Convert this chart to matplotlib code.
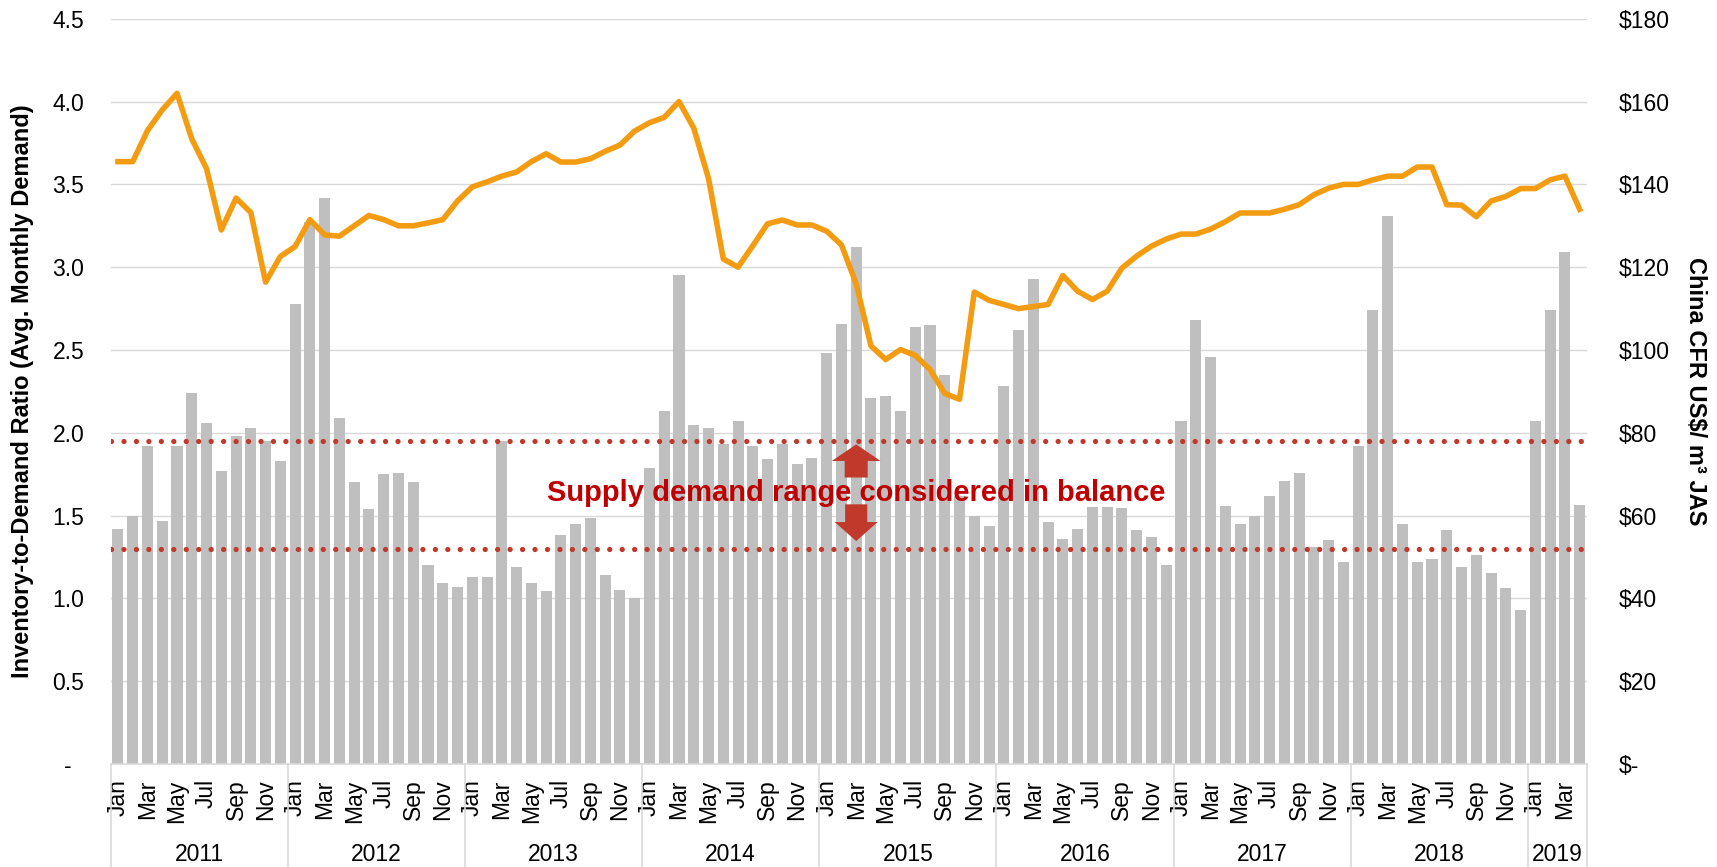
import numpy as np
import matplotlib
matplotlib.use("Agg")
import matplotlib.pyplot as plt
import matplotlib.transforms as mtransforms
from matplotlib.patches import FancyArrow

plt.rcParams['font.family'] = ['Liberation Sans', 'DejaVu Sans']

# monthly series, Jan 2011 - Apr 2019
years = ['2011', '2012', '2013', '2014', '2015', '2016', '2017', '2018', '2019']
months_per_year = [12, 12, 12, 12, 12, 12, 12, 12, 4]
month_names = ['Jan', 'Feb', 'Mar', 'Apr', 'May', 'Jun',
               'Jul', 'Aug', 'Sep', 'Oct', 'Nov', 'Dec']

# inventory-to-demand ratio (left axis)
ratio = [
    1.42, 1.50, 1.92, 1.47, 1.92, 2.24, 2.06, 1.77, 1.98, 2.03, 1.95, 1.83,
    2.78, 3.27, 3.42, 2.09, 1.70, 1.54, 1.75, 1.76, 1.70, 1.20, 1.09, 1.07,
    1.13, 1.13, 1.95, 1.19, 1.09, 1.045, 1.38, 1.45, 1.485, 1.14, 1.05, 1.00,
    1.79, 2.13, 2.95, 2.05, 2.03, 1.93, 2.07, 1.92, 1.84, 1.93, 1.81, 1.85,
    2.48, 2.66, 3.12, 2.21, 2.22, 2.13, 2.64, 2.65, 2.35, 1.62, 1.50, 1.44,
    2.28, 2.62, 2.93, 1.46, 1.36, 1.42, 1.55, 1.55, 1.545, 1.415, 1.37, 1.20,
    2.07, 2.68, 2.46, 1.56, 1.45, 1.50, 1.62, 1.71, 1.76, 1.31, 1.35, 1.22,
    1.92, 2.74, 3.31, 1.45, 1.22, 1.24, 1.415, 1.19, 1.265, 1.155, 1.06, 0.93,
    2.07, 2.74, 3.09, 1.565,
]

# China CFR price, US$/m3 JAS (right axis)
price = [
    145.5, 145.5, 153.0, 158.0, 162.0, 151.0, 143.8, 129.0, 136.7, 133.2, 116.4, 122.6,
    125.0, 131.5, 127.8, 127.5, 130.0, 132.5, 131.5, 130.0, 130.0, 130.7, 131.5, 136.0,
    139.4, 140.6, 142.0, 143.0, 145.5, 147.4, 145.4, 145.4, 146.2, 148.0, 149.5, 152.9,
    154.9, 156.2, 160.0, 153.6, 141.4, 122.0, 120.0, 125.2, 130.5, 131.4, 130.2, 130.2,
    128.7, 125.4, 116.0, 101.0, 97.7, 100.1, 98.7, 95.3, 89.5, 88.1, 114.0, 112.0,
    111.0, 110.0, 110.5, 111.0, 118.0, 114.2, 112.2, 114.2, 119.8, 122.7, 125.1, 126.8,
    128.0, 128.0, 129.2, 131.0, 133.1, 133.1, 133.1, 134.0, 135.1, 137.5, 139.1, 140.0,
    140.0, 141.1, 142.0, 142.0, 144.2, 144.2, 135.1, 135.0, 132.2, 136.0, 137.1, 139.0,
    139.0, 141.1, 142.0, 134.0,
]

# balance band on the ratio axis
band_low, band_high = 1.30, 1.95

labels = []
for n in months_per_year:
    labels += month_names[:n]
x = np.arange(len(ratio))

fig = plt.figure(figsize=(17.17, 8.67), dpi=100)
ax = fig.add_axes([0.0644, 0.1188, 0.8599, 0.8595])

ax.bar(x, ratio, width=0.75, color='#bfbfbf', zorder=2)
ax.set_xlim(-0.5, len(x) - 0.5)
ax.set_ylim(0, 4.5)
yt = np.arange(0, 4.51, 0.5)
ax.set_yticks(yt)
ax.set_yticklabels(['-  '] + ['%.1f' % v for v in yt[1:]])
ax.yaxis.grid(True, color='#d9d9d9', lw=1.0, zorder=0)
ax.set_axisbelow(True)
for s in ['left', 'right', 'top']:
    ax.spines[s].set_visible(False)
ax.spines['bottom'].set_color('#d9d9d9')
ax.spines['bottom'].set_linewidth(1.2)

# month labels on every other month
ax.set_xticks(x[::2])
ax.set_xticklabels(labels[::2], rotation=90, va='top', ha='center')
ax.tick_params(axis='x', length=0, pad=11, labelsize=16.5)
ax.tick_params(axis='y', length=0, pad=19, labelsize=16.5)

# year groups under the month labels
blend = mtransforms.blended_transform_factory(ax.transData, ax.transAxes)
edges = np.concatenate([[0], np.cumsum(months_per_year)]) - 0.5
for e in edges:
    ax.plot([e, e], [0, -0.14], transform=blend, color='#d9d9d9', lw=1.2,
            clip_on=False, zorder=1)
for i, yr in enumerate(years):
    ax.text((edges[i] + edges[i + 1]) / 2, -0.121, yr, transform=blend,
            ha='center', va='center', fontsize=16.5)

# dotted band lines
for lvl in (band_low, band_high):
    ax.axhline(lvl, color='#c0392b', lw=3.8, linestyle=(0, (0.01, 2.35)),
               dash_capstyle='round', zorder=3)

# annotation with up/down block arrows
mid = 50
ax.text(mid, 1.59, 'Supply demand range considered in balance', ha='center',
        va='baseline', fontsize=21, fontweight='bold', color='#c00000', zorder=5)
ax.add_patch(FancyArrow(mid, 1.73, 0, 0.20, width=1.56, head_width=3.3,
                        head_length=0.10, length_includes_head=True,
                        color='#c0392b', lw=0, zorder=4))
ax.add_patch(FancyArrow(mid, 1.568, 0, -0.222, width=1.5, head_width=2.9,
                        head_length=0.115, length_includes_head=True,
                        color='#c0392b', lw=0, zorder=4))

# price line on the right axis
ax2 = ax.twinx()
ax2.plot(x, price, color='#f39c12', lw=4, solid_joinstyle='round', zorder=6)
ax2.set_ylim(0, 180)
pt = np.arange(0, 181, 20)
ax2.set_yticks(pt)
ax2.set_yticklabels(['\\$-'] + ['\\$%d' % v for v in pt[1:]])
ax2.tick_params(axis='y', length=0, pad=23, labelsize=16.5)
for s in ax2.spines.values():
    s.set_visible(False)

fig.text(23 / 1717, 0.549, 'Inventory-to-Demand Ratio (Avg. Monthly Demand)',
         rotation=90, ha='center', va='center', fontsize=17, fontweight='bold')
fig.text(1695 / 1717, 0.549, 'China CFR US\\$/ m³ JAS', rotation=270,
         ha='center', va='center', fontsize=17, fontweight='bold')

fig.savefig('out.png', dpi=100)
